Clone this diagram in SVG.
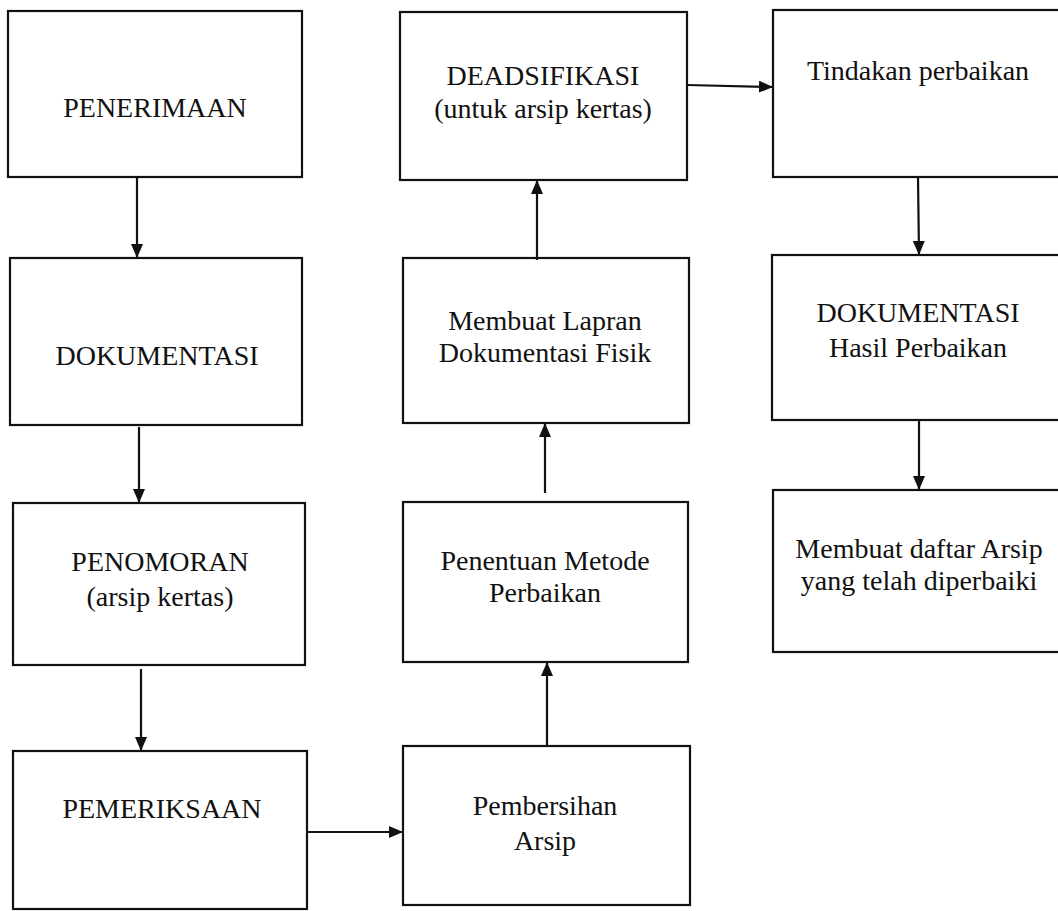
<svg xmlns="http://www.w3.org/2000/svg" width="1058" height="911" viewBox="0 0 1058 911">
<defs>
<marker id="ah" viewBox="0 0 14 12" refX="14" refY="6" markerWidth="14" markerHeight="12" markerUnits="userSpaceOnUse" orient="auto">
<path d="M0,0 L14,6 L0,12 Z" fill="#111"/>
</marker>
</defs>
<style>
.box{fill:#fff;stroke:#111;stroke-width:2.2}
.t{font-family:"Liberation Serif","Times New Roman",serif;font-size:28px;fill:#111;text-anchor:middle}
.c{stroke:#111;stroke-width:2.2;fill:none;marker-end:url(#ah)}
</style>
<rect width="1058" height="911" fill="#fff"/>
<g id="penerimaan"><rect class="box" x="8" y="11" width="294" height="166"/><text class="t" x="155" y="117">PENERIMAAN</text></g>
<g id="dokumentasi"><rect class="box" x="10" y="258" width="292" height="167"/><text class="t" x="157" y="365">DOKUMENTASI</text></g>
<g id="penomoran"><rect class="box" x="13" y="503" width="292" height="162"/><text class="t" x="160" y="571">PENOMORAN</text><text class="t" x="160" y="606">(arsip kertas)</text></g>
<g id="pemeriksaan"><rect class="box" x="13" y="751" width="294" height="158"/><text class="t" x="162" y="818">PEMERIKSAAN</text></g>
<g id="pembersihan"><rect class="box" x="403" y="746" width="287" height="159"/><text class="t" x="545" y="815">Pembersihan</text><text class="t" x="545" y="850">Arsip</text></g>
<g id="penentuan"><rect class="box" x="403" y="502" width="285" height="160"/><text class="t" x="545" y="570">Penentuan Metode</text><text class="t" x="545" y="602">Perbaikan</text></g>
<g id="laporan"><rect class="box" x="403" y="258" width="286" height="165"/><text class="t" x="545" y="330">Membuat Lapran</text><text class="t" x="545" y="362">Dokumentasi Fisik</text></g>
<g id="deadsifikasi"><rect class="box" x="400" y="12" width="287" height="168"/><text class="t" x="543" y="85">DEADSIFIKASI</text><text class="t" x="543" y="118">(untuk arsip kertas)</text></g>
<g id="tindakan"><rect class="box" x="773" y="10" width="300" height="167"/><text class="t" x="918" y="80">Tindakan perbaikan</text></g>
<g id="dokhasil"><rect class="box" x="772" y="255" width="300" height="165"/><text class="t" x="918" y="322">DOKUMENTASI</text><text class="t" x="918" y="357">Hasil Perbaikan</text></g>
<g id="daftar"><rect class="box" x="773" y="490" width="300" height="162"/><text class="t" x="919" y="558">Membuat daftar Arsip</text><text class="t" x="919" y="590">yang telah diperbaiki</text></g>
<g id="connectors">
<line class="c" x1="137" y1="177" x2="137" y2="258"/>
<line class="c" x1="139" y1="427" x2="139" y2="503"/>
<line class="c" x1="141" y1="669" x2="141" y2="751"/>
<line class="c" x1="307" y1="832" x2="403" y2="832"/>
<line class="c" x1="547" y1="746" x2="547" y2="662"/>
<line class="c" x1="545" y1="493" x2="545" y2="423"/>
<line class="c" x1="537" y1="260" x2="537" y2="180"/>
<line class="c" x1="687" y1="85" x2="773" y2="87"/>
<line class="c" x1="918" y1="177" x2="919" y2="255"/>
<line class="c" x1="919" y1="420" x2="919" y2="490"/>
</g>
</svg>
